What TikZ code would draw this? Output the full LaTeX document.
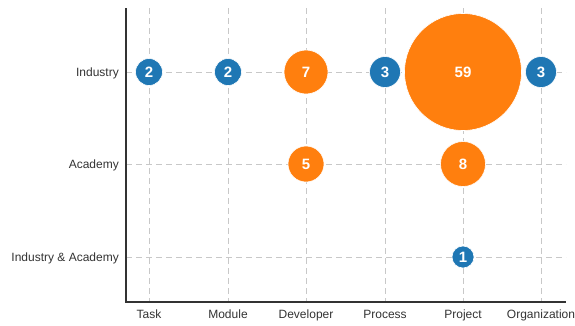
\documentclass[tikz,border=0pt]{standalone}
\usepackage{fontspec}
\setmainfont{Liberation Sans}
\usetikzlibrary{positioning}
\definecolor{bubbleblue}{HTML}{1F77B4}
\definecolor{bubbleorange}{HTML}{FF7F0E}
\definecolor{gridgray}{HTML}{C8C8C8}
\definecolor{axisgray}{HTML}{333333}

\tikzset{
  gridline/.style={gridgray, line width=1pt, dash pattern=on 6pt off 4pt},
  axisline/.style={axisgray, line width=1.4pt},
  ticklabel/.style={text=axisgray, font=\fontsize{12}{12}\selectfont, inner sep=0pt},
  bubble/.style={circle, draw=white, line width=.6pt, inner sep=0pt, text=white,
    font=\bfseries\fontsize{15}{15}\selectfont},
  bluebubble/.style={bubble, fill=bubbleblue},
  orangebubble/.style={bubble, fill=bubbleorange}
}

\begin{document}
\begin{tikzpicture}[x=1pt, y=-1pt]
        \useasboundingbox (0,0) rectangle (575,325);

        % grid
        \foreach \name/\x/\lab in {task/149/Task, module/228/Module, developer/306/Developer,
                                   process/385/Process, project/463/Project, organization/541/Organization} {
          \draw [gridline] (\x,8) -- (\x,302);
          \node [ticklabel, anchor=base] (\name) at (\x,318) {\lab};
        }
        \foreach \name/\y/\lab in {industry/72/Industry, academy/164/Academy, both/257/Industry \& Academy} {
          \draw [gridline] (126,\y) -- (566,\y);
          \node [ticklabel, anchor=base east] (\name) at (119,\y+4.5) {\lab};
        }

        % axes
        \coordinate (ytop) at (126,8);
        \coordinate (origin) at (126,302);
        \coordinate (xend) at (566,302);
        \draw [axisline] (ytop) -- (origin) -- (xend);

        % bubbles
        \node [bluebubble, minimum size=27pt] (indtask) at (149,72) {2};
        \node [bluebubble, minimum size=27pt] (indmodule) at (228,72) {2};
        \node [orangebubble, minimum size=44pt] (inddeveloper) at (306,72) {7};
        \node [bluebubble, minimum size=31pt] (indprocess) at (385,72) {3};
        \node [orangebubble, minimum size=117pt] (indproject) at (463,72) {59};
        \node [bluebubble, minimum size=31pt] (indorganization) at (541,72) {3};
        \node [orangebubble, minimum size=36pt] (acadeveloper) at (306,164) {5};
        \node [orangebubble, minimum size=45pt] (acadproject) at (463,164) {8};
        \node [bluebubble, minimum size=22pt] (bothproject) at (463,257) {1};
\end{tikzpicture}
\end{document}
